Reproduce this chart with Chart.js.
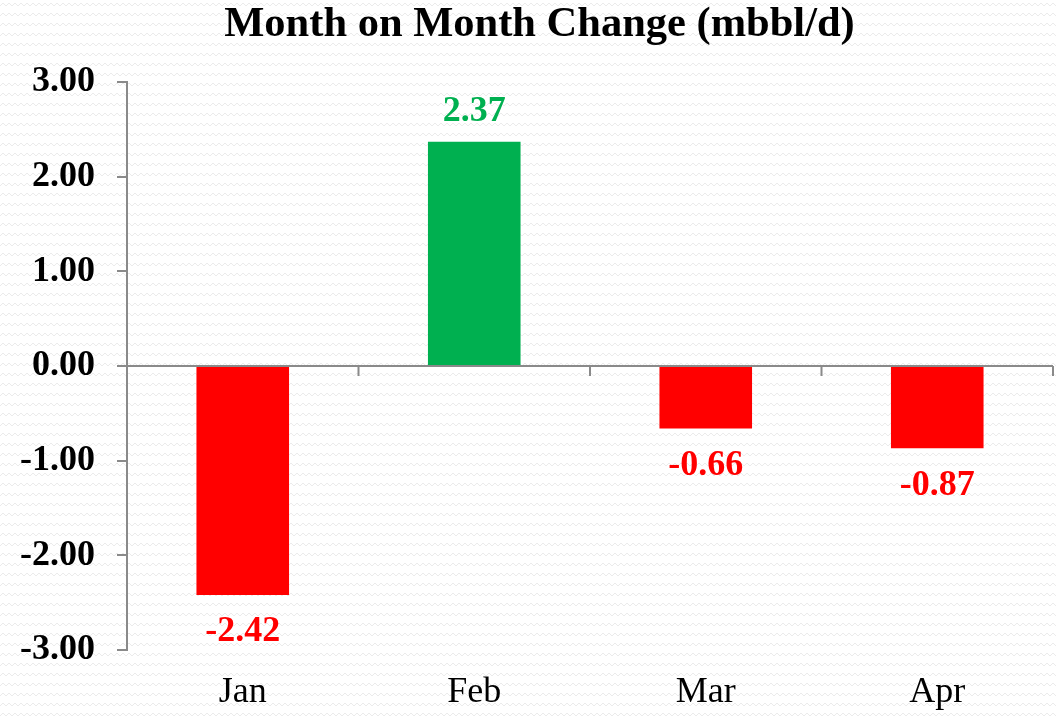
<!DOCTYPE html>
<html>
<head>
<meta charset="utf-8">
<script src="https://cdn.jsdelivr.net/npm/chart.js@4/dist/chart.umd.min.js"></script>
<style>
  html, body { margin: 0; padding: 0; background: #fff; }
  #wrap { width: 1056px; height: 717px; }
</style>
</head>
<body>
<div id="wrap"><canvas id="momChart" width="1056" height="717"></canvas></div>
<script>
// chart data
const categories = ['Jan', 'Feb', 'Mar', 'Apr'];
const values = [-2.42, 2.37, -0.66, -0.87];
const yTicks = [-3, -2, -1, 0, 1, 2, 3];

const RED = '#FF0000';
const GREEN = '#00B050';
const AXIS_GREY = '#8a8a8a';
const FONT = "'Liberation Serif', 'Times New Roman', serif";

const barColors = values.map(v => (v < 0 ? RED : GREEN));

// faint wavy background like the original slide
const patternBg = {
  id: 'patternBg',
  beforeDraw(chart) {
    const tile = document.createElement('canvas');
    tile.width = 12;
    tile.height = 10;
    const t = tile.getContext('2d');
    t.fillStyle = '#ffffff';
    t.fillRect(0, 0, 12, 10);
    t.strokeStyle = '#ebebeb';
    t.lineWidth = 1;
    t.beginPath();
    t.moveTo(0, 6);
    t.lineTo(3, 3);
    t.lineTo(6, 6);
    t.lineTo(9, 3);
    t.lineTo(12, 6);
    t.stroke();
    const ctx = chart.ctx;
    ctx.save();
    ctx.fillStyle = ctx.createPattern(tile, 'repeat');
    ctx.fillRect(0, 0, chart.width, chart.height);
    ctx.restore();
  }
};

// title sits a little right of the canvas centre in the original
const nudgeTitle = {
  id: 'nudgeTitle',
  afterLayout(chart) {
    if (chart.titleBlock) {
      chart.titleBlock.left += 13;
      chart.titleBlock.right += 13;
    }
  }
};

// zero line with category boundary ticks, plus value labels
const zeroAxisAndLabels = {
  id: 'zeroAxisAndLabels',
  afterDatasetsDraw(chart) {
    const ctx = chart.ctx;
    const area = chart.chartArea;
    const x = chart.scales.x;
    const y0 = chart.scales.y.getPixelForValue(0);
    const step = (area.right - area.left) / categories.length;

    ctx.save();
    ctx.strokeStyle = AXIS_GREY;
    ctx.lineWidth = 2;
    ctx.beginPath();
    ctx.moveTo(area.left - 10, y0);
    ctx.lineTo(area.right, y0);
    for (let i = 1; i <= categories.length; i++) {
      const bx = x.getPixelForValue(i - 1) + step / 2;
      ctx.moveTo(bx, y0);
      ctx.lineTo(bx, y0 + 10);
    }
    ctx.stroke();

    ctx.font = 'bold 36px ' + FONT;
    ctx.textAlign = 'center';
    ctx.textBaseline = 'middle';
    chart.getDatasetMeta(0).data.forEach((bar, i) => {
      const v = values[i];
      ctx.fillStyle = barColors[i];
      const ty = v < 0 ? bar.y + 37 : bar.y - 30;
      ctx.fillText(v.toFixed(2), bar.x, ty);
    });
    ctx.restore();
  }
};

new Chart(document.getElementById('momChart'), {
  type: 'bar',
  data: {
    labels: categories,
    datasets: [{
      data: values,
      backgroundColor: barColors,
      borderWidth: 0,
      categoryPercentage: 1.0,
      barPercentage: 0.4
    }]
  },
  options: {
    responsive: false,
    animation: false,
    layout: { padding: { left: 0, right: 3, top: 0, bottom: 0 } },
    plugins: {
      legend: { display: false },
      tooltip: { enabled: false },
      title: {
        display: true,
        text: 'Month on Month Change (mbbl/d)',
        color: '#000',
        font: { family: FONT, size: 42.5, weight: 'bold' },
        padding: { top: 0, bottom: 31 }
      }
    },
    scales: {
      x: {
        grid: { display: false, drawTicks: false },
        border: { display: false },
        afterFit: axis => { axis.height = 67; },
        ticks: {
          color: '#000',
          padding: 21,
          font: { family: FONT, size: 36 }
        }
      },
      y: {
        min: -3,
        max: 3,
        afterBuildTicks: axis => {
          axis.ticks = yTicks.map(v => ({ value: v }));
        },
        afterFit: axis => { axis.width = 127; },
        grid: {
          drawOnChartArea: false,
          drawTicks: true,
          tickLength: 10,
          color: AXIS_GREY,
          lineWidth: 2
        },
        border: { display: true, color: AXIS_GREY, width: 2 },
        ticks: {
          color: '#000',
          padding: 22,
          font: { family: FONT, size: 36, weight: 'bold' },
          callback: v => Number(v).toFixed(2)
        }
      }
    }
  },
  plugins: [patternBg, nudgeTitle, zeroAxisAndLabels]
});
</script>
</body>
</html>
